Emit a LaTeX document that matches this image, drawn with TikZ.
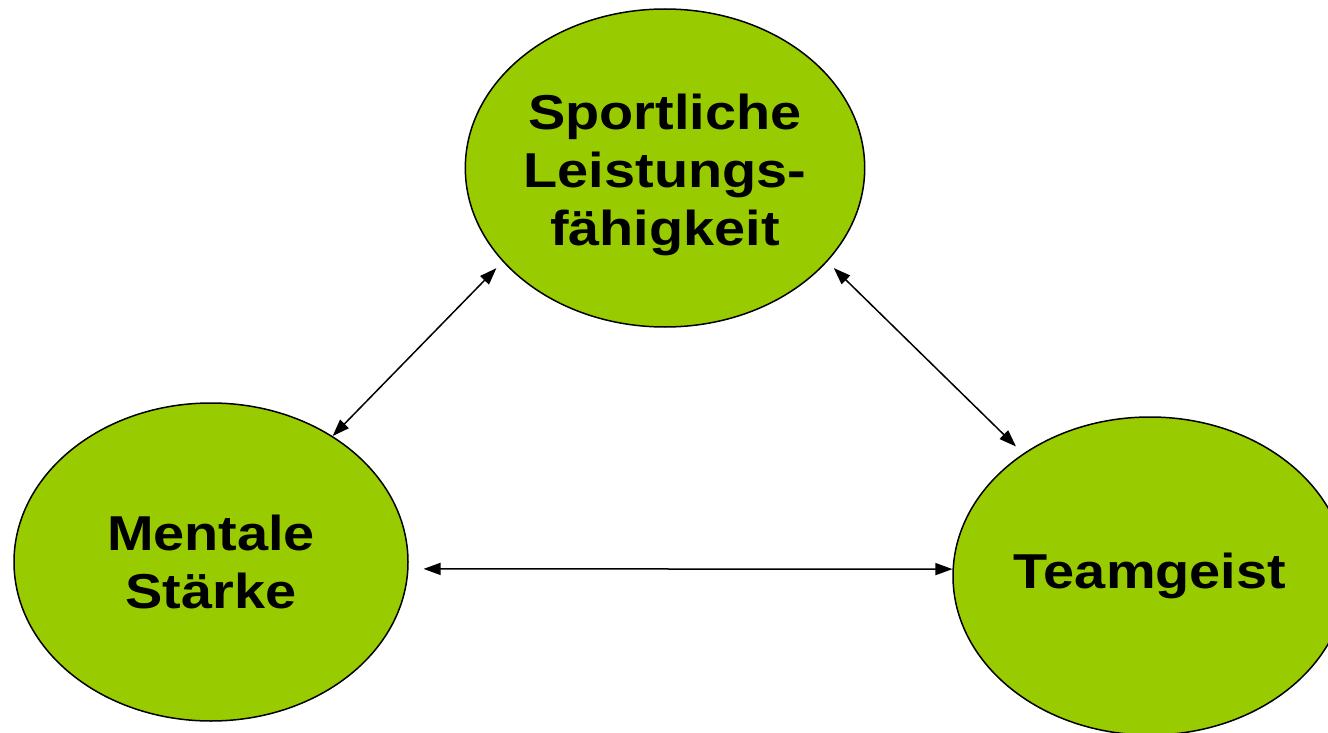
\documentclass[tikz,border=0pt]{standalone}
\usepackage{fontspec}
\setmainfont{Liberation Sans}[FakeStretch=1.14]
\usetikzlibrary{shapes.geometric,arrows.meta}
\definecolor{kreisgruen}{RGB}{153,204,0}
\begin{document}
\begin{tikzpicture}[x=1pt,y=-1pt]
                        \tikzstyle{kreis}=[ellipse, draw=black, line width=1.5pt, fill=kreisgruen, minimum width=394pt, minimum height=318pt, inner sep=0pt, align=center, font=\fontsize{49}{58}\selectfont\bfseries]
                        \tikzstyle{pfeil}=[{Triangle[length=17pt,width=12pt]}-{Triangle[length=17pt,width=12pt]}, line width=1.5pt]
                        \useasboundingbox (0,0) rectangle (1328,733);
                        \node[kreis] (sport) at (665,168) {\\[-8pt]Sportliche\\Leistungs-\\fähigkeit};
                        \node[kreis] (mental) at (211,562) {Mentale\\Stärke};
                        \node[kreis] (team) at (1150,576) {Teamgeist};
                        \draw[pfeil, shorten >=9pt] (mental.46.8) -- (sport.210.7);
                        \draw[pfeil, shorten <=9pt, shorten >=10pt] (sport.-30.7) -- (team.136.9);
                        \draw[pfeil, shorten <=15pt] (mental.-2) -- (team.178);
                    \end{tikzpicture}
\end{document}
